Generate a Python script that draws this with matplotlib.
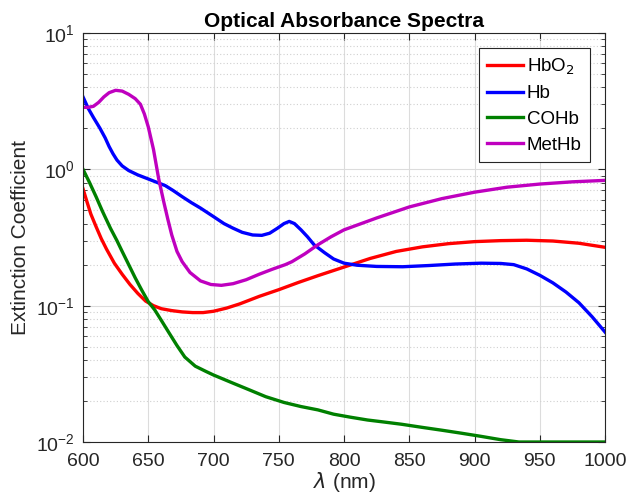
import numpy as np
import matplotlib
matplotlib.use("Agg")
import matplotlib.pyplot as plt
from matplotlib.ticker import LogLocator, NullFormatter, MultipleLocator

plt.rcParams['font.family'] = ['Liberation Sans', 'DejaVu Sans']

# absorbance spectra (wavelength nm, extinction coefficient)
wl_hbo2 = [600, 603, 606, 610, 614, 618, 624, 630, 636, 642, 648, 654, 660, 668, 676, 684,
           692, 700, 710, 720, 735, 750, 765, 780, 800, 820, 840, 860, 880, 900, 920, 940,
           960, 980, 1000]
hbo2 = [0.72, 0.58, 0.47, 0.38, 0.31, 0.26, 0.205, 0.17, 0.143, 0.123, 0.108, 0.1, 0.095,
        0.092, 0.09, 0.089, 0.089, 0.091, 0.096, 0.103, 0.117, 0.131, 0.148, 0.166, 0.192,
        0.222, 0.25, 0.27, 0.285, 0.295, 0.3, 0.302, 0.298, 0.287, 0.268]

wl_hb = [600, 604, 608, 613, 617, 620, 623, 626, 630, 635, 642, 650, 657, 663, 669, 676, 683,
         690, 700, 708, 715, 722, 730, 737, 743, 749, 754, 758, 762, 767, 772, 777, 785, 792,
         800, 810, 825, 845, 865, 885, 905, 920, 930, 940, 950, 960, 970, 980, 990, 1000]
hb = [3.4, 2.8, 2.4, 2.0, 1.7, 1.47, 1.3, 1.17, 1.06, 0.98, 0.91, 0.85, 0.8, 0.76, 0.7, 0.63,
      0.57, 0.52, 0.45, 0.4, 0.37, 0.345, 0.33, 0.328, 0.34, 0.37, 0.4, 0.415, 0.4, 0.36, 0.32,
      0.28, 0.245, 0.22, 0.205, 0.198, 0.194, 0.193, 0.197, 0.202, 0.205, 0.204, 0.2, 0.186,
      0.167, 0.147, 0.126, 0.105, 0.083, 0.064]

wl_cohb = [600, 605, 610, 615, 621, 626, 630, 635, 640, 645, 650, 655, 660, 666, 672, 678, 686,
           694, 700, 715, 728, 740, 754, 767, 780, 792, 805, 818, 831, 844, 860, 875, 890, 905,
           920, 934, 950, 1000]
cohb = [1.0, 0.8, 0.63, 0.49, 0.37, 0.3, 0.25, 0.2, 0.16, 0.13, 0.107, 0.093, 0.078, 0.063,
        0.051, 0.042, 0.036, 0.033, 0.031, 0.027, 0.024, 0.0215, 0.0195, 0.0182, 0.0172, 0.016,
        0.0152, 0.0145, 0.014, 0.0135, 0.0128, 0.0122, 0.0116, 0.011, 0.0104, 0.01, 0.01, 0.01]

wl_methb = [600, 604, 608, 612, 616, 620, 625, 630, 635, 640, 644, 647, 650, 654, 658, 662, 665,
            668, 672, 676, 682, 690, 698, 706, 715, 725, 735, 745, 755, 760, 770, 780, 790, 800,
            810, 825, 850, 875, 900, 925, 950, 975, 1000]
methb = [2.85, 2.85, 2.9, 3.1, 3.4, 3.65, 3.8, 3.75, 3.55, 3.3, 3.0, 2.55, 2.05, 1.4, 0.85, 0.57,
         0.43, 0.33, 0.25, 0.21, 0.175, 0.152, 0.143, 0.141, 0.145, 0.155, 0.17, 0.185, 0.2, 0.21,
         0.24, 0.28, 0.32, 0.36, 0.39, 0.44, 0.53, 0.61, 0.68, 0.74, 0.78, 0.81, 0.83]

fig = plt.figure(figsize=(6.26, 5.04), dpi=100)
ax = fig.add_axes([0.1326, 0.123, 0.834, 0.8115])

lw = 2.4
ax.plot(wl_hbo2, hbo2, color='#ff0000', lw=lw, label='HbO$_2$')
ax.plot(wl_hb, hb, color='#0000ff', lw=lw, label='Hb')
ax.plot(wl_cohb, cohb, color='#008000', lw=lw, label='COHb')
ax.plot(wl_methb, methb, color='#bf00bf', lw=lw, label='MetHb')

ax.set_yscale('log')
ax.set_xlim(600, 1000)
ax.set_ylim(1e-2, 1e1)
ax.xaxis.set_major_locator(MultipleLocator(50))
ax.yaxis.set_minor_locator(LogLocator(base=10, subs=np.arange(2, 10)))
ax.yaxis.set_minor_formatter(NullFormatter())

ax.grid(True, which='major', color='#dcdcdc', lw=0.8, ls='-')
ax.grid(True, which='minor', axis='y', color='#d0d0d0', lw=0.8, ls=(0, (1, 2)))
ax.set_axisbelow(True)

for s in ax.spines.values():
    s.set_color('#262626')
    s.set_linewidth(0.8)
ax.tick_params(which='both', direction='in', top=True, right=True, colors='#262626',
               labelsize=14)
ax.tick_params(which='major', length=5)
ax.tick_params(which='minor', length=3)
ax.tick_params(axis='x', pad=8)
ax.tick_params(axis='y', pad=6)

ax.set_title('Optical Absorbance Spectra', fontsize=15, fontweight='bold', pad=4)
ax.set_xlabel('$\\lambda$ (nm)', fontsize=15, color='#262626', labelpad=0)
ax.set_ylabel('Extinction Coefficient', fontsize=15, color='#262626', labelpad=4)

leg = ax.legend(loc='upper right', fontsize=13.5, handlelength=1.9, handletextpad=0.2,
                borderpad=0.45, labelspacing=0.45, fancybox=False, framealpha=1,
                edgecolor='#262626', bbox_to_anchor=(0.971, 0.963), borderaxespad=0)
leg.get_frame().set_linewidth(0.8)

fig.savefig('out.png', dpi=100)
